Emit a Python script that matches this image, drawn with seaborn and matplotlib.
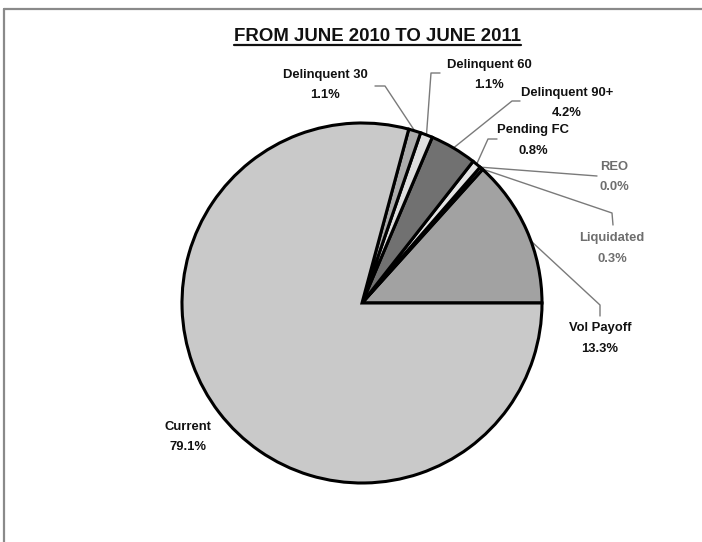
import numpy as np
import matplotlib
matplotlib.use("Agg")
import matplotlib.pyplot as plt
from matplotlib import font_manager
from matplotlib.lines import Line2D
import seaborn as sns

# Portfolio status breakdown, June 2010 - June 2011 (percent of loans)
labels = ["Vol Payoff", "Liquidated", "REO", "Pending FC",
          "Delinquent 90+", "Delinquent 60", "Delinquent 30", "Current"]
shares = [13.3, 0.3, 0.0, 0.8, 4.2, 1.1, 1.1, 79.1]
title = "FROM JUNE 2010 TO JUNE 2011"

sns.set_theme(style="white")

available = {f.name for f in font_manager.fontManager.ttflist}
family = next((f for f in ["Liberation Sans Narrow", "Arial Narrow", "Liberation Sans"]
               if f in available), "DejaVu Sans")
plt.rcParams["font.family"] = [family, "DejaVu Sans"]

W, H = 702, 542
fig = plt.figure(figsize=(W / 100, H / 100), dpi=100)
ax = fig.add_axes([0, 0, 1, 1])


def P(x, y):
    """Pixel position (origin top-left) -> data coordinates."""
    return x, H - y


cx, cy = P(362, 303)
radius = 180

fills = ["#a2a2a2", "#ededed", "#ffffff", "#e4e4e4",
         "#717171", "#dedede", "#acacac", "#c9c9c9"]

wedges, _ = ax.pie(shares, colors=fills, startangle=0, counterclock=True,
                   center=(cx, cy), radius=radius,
                   wedgeprops=dict(edgecolor="black", linewidth=2.2,
                                   joinstyle="miter"))
ax.set_xlim(0, W)
ax.set_ylim(0, H)
ax.set_aspect("equal")
ax.axis("off")

# frame around the chart area
frame_c = "#8a8a8a"
fig.add_artist(Line2D([4 / W, 1], [1 - 9 / H, 1 - 9 / H], transform=fig.transFigure,
                      color=frame_c, lw=1.6))
fig.add_artist(Line2D([4 / W, 4 / W], [0, 1 - 9 / H], transform=fig.transFigure,
                      color=frame_c, lw=1.6))

# title with underline
tx, ty = P(377, 41)
t = ax.text(tx, ty, title, ha="center", va="baseline", fontsize=13.4,
            fontweight="bold", color="#111111")
fig.canvas.draw()
bb = t.get_window_extent(renderer=fig.canvas.get_renderer())
inv = ax.transData.inverted()
(x0, _), (x1, _) = inv.transform([[bb.x0, bb.y0], [bb.x1, bb.y1]])
ax.plot([x0, x1], [ty - 3.5, ty - 3.5], color="#111111", lw=1.6)

# label text positions (pixel coords of the name line), leader elbows and anchors
label_pos = {
    "Delinquent 30": (325, 75),
    "Delinquent 60": (489, 65),
    "Delinquent 90+": (567, 93),
    "Pending FC": (533, 130),
    "REO": (614, 167),
    "Liquidated": (612, 238),
    "Vol Payoff": (600, 328),
    "Current": (188, 427),
}
leader_pts = {
    "Delinquent 30": [(375, 86), (385, 86)],
    "Delinquent 60": [(440, 73), (431, 73)],
    "Delinquent 90+": [(520, 101), (512, 101)],
    "Pending FC": [(497, 139), (488, 139)],
    "REO": [(597, 176)],
    "Liquidated": [(613, 225), (612, 213)],
    "Vol Payoff": [(600, 316), (600, 305)],
}
anchor_frac = {"Delinquent 30": 0.5, "Delinquent 60": 0.5, "Delinquent 90+": 0.5,
               "Pending FC": 0.5, "REO": 0.5, "Liquidated": 0.2, "Vol Payoff": 0.42}
grey_text = {"REO", "Liquidated"}

for w, name, val in zip(wedges, labels, shares):
    lx, ly = label_pos[name]
    col = "#6e6e6e" if name in grey_text else "#111111"
    x, y = P(lx, ly)
    ax.text(x, y, name, ha="center", va="center", fontsize=9.4,
            fontweight="bold", color=col)
    ax.text(x, y - 20.5, f"{val:.1f}%", ha="center", va="center", fontsize=9.4,
            fontweight="bold", color=col)
    if name in leader_pts:
        f = anchor_frac[name]
        ang = np.deg2rad(w.theta1 + f * (w.theta2 - w.theta1))
        ax_pt = (cx + radius * np.cos(ang), cy + radius * np.sin(ang))
        pts = [P(*p) for p in leader_pts[name]] + [ax_pt]
        xs, ys = zip(*pts)
        ax.plot(xs, ys, color="#7a7a7a", lw=1.0, zorder=0.5)

fig.savefig("out.png", dpi=100, facecolor="white")
